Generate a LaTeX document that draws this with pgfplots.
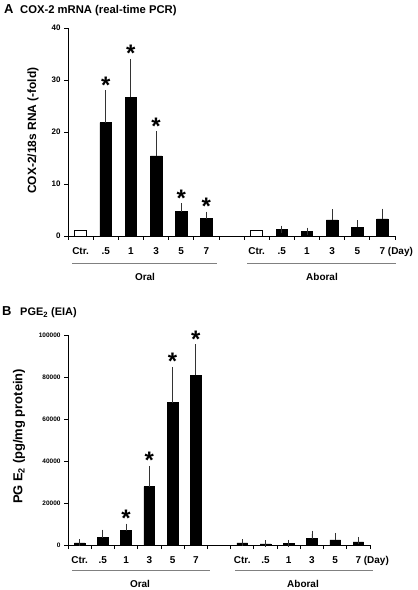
\documentclass[border=0pt]{standalone}
\usepackage{fontspec}
\setmainfont{Liberation Sans}
\usepackage{pgfplots}
\pgfplotsset{compat=1.18}

\pgfplotsset{
  panel/.style={
    scale only axis,
    axis x line*=bottom, axis y line*=left,
    axis line style={line width=0.8pt, -},
    xmin=-0.5, xmax=12.5, ymin=0,
    xtick={-0.5,0.5,...,12.5}, xticklabels={},
    major tick length=4bp, tick align=outside,
    tick style={line width=0.8pt, black},
    extra x ticks={0,1,2,3,4,5,7,8,9,10,11,12},
    extra x tick labels={Ctr.,.5,1,3,5,7,Ctr.,.5,1,3,5,{7\rlap{ (Day)}}},
    extra x tick style={major tick length=0pt,
      xticklabel style={font=\bfseries\fontsize{10}{12}\selectfont, anchor=base, yshift=-19bp}},
    scaled y ticks=false,
    clip=false,
  },
  blackbar/.style={ybar, bar width=0.46, bar shift=0pt, fill=black, draw=black, line width=0.6pt,
    error bars/.cd, y dir=plus, y explicit,
    error bar style={line width=0.8pt, black!80},
    error mark options={line width=0.8pt, black!80, mark size=3.5bp}},
  whitebar/.style={ybar, bar width=0.46, bar shift=0pt, fill=white, draw=black, line width=0.8pt},
  stars/.style={draw=none, mark=none, nodes near coords={\textbf{*}},
    every node near coord/.append style={anchor=base, yshift=0.5bp, inner sep=0pt,
      font=\bfseries\fontsize{24}{24}\selectfont}},
}

\begin{document}
\begin{tikzpicture}[x=1bp,y=1bp]
\useasboundingbox (0,0) rectangle (417,590);

% Panel A
\begin{axis}[panel, at={(68bp,354bp)}, anchor=south west, width=327bp, height=208bp,
  ymax=40, ytick={0,10,20,30,40}, yticklabels={0,10,20,30,40},
  yticklabel style={font=\bfseries\fontsize{8}{8}\selectfont},
  ylabel={\bfseries COX-2/18s RNA (-fold)},
  ylabel style={at={(axis description cs:-0.107,0.507)}, anchor=center, font=\fontsize{12}{12}\selectfont}]
\addplot[whitebar] coordinates {(0,1.0) (7,1.0)};
\addplot[blackbar] coordinates {
  (1,21.8) +- (0,5.6)
  (2,26.7) +- (0,6.7)
  (3,15.4) +- (0,4.1)
  (4,4.7) +- (0,0.9)
  (5,3.4) +- (0,0.6)
  (8,1.2) +- (0,0.1)
  (9,0.9) +- (0,0.05)
  (10,3.1) +- (0,1.4)
  (11,1.7) +- (0,0.7)
  (12,3.3) +- (0,1.3)
};
\addplot[stars] coordinates {(1,27.4) (2,33.4) (3,19.5) (4,5.6) (5,4.0)};
\end{axis}

% Panel B
\begin{axis}[panel, at={(68bp,45bp)}, anchor=south west, width=302bp, height=210bp,
  ymax=100000, ytick={0,20000,40000,60000,80000,100000},
  yticklabels={0,20000,40000,60000,80000,100000},
  yticklabel style={font=\bfseries\fontsize{6.5}{6.5}\selectfont},
  ylabel={\bfseries PG E\textsubscript{2} (pg/mg protein)},
  ylabel style={at={(axis description cs:-0.162,0.517)}, anchor=center, font=\fontsize{13}{13}\selectfont}]
\addplot[blackbar] coordinates {
  (0,1000) +- (0,0)
  (1,3500) +- (0,2200)
  (2,7000) +- (0,1500)
  (3,27800) +- (0,8200)
  (4,67800) +- (0,15400)
  (5,80800) +- (0,13200)
  (7,1000) +- (0,0)
  (8,500) +- (0,0)
  (9,800) +- (0,0)
  (10,3000) +- (0,2200)
  (11,2400) +- (0,1700)
  (12,1500) +- (0,700)
};
\addplot[stars] coordinates {(2,8500) (3,36000) (4,83200) (5,94000)};
\end{axis}

% group annotations
\draw[gray, line width=1bp] (72,326) -- (217,326);
\draw[gray, line width=1bp] (247,326) -- (396,326);
\node[font=\bfseries\fontsize{10}{12}\selectfont, anchor=base, inner sep=0pt] at (145,309.5) {Oral};
\node[font=\bfseries\fontsize{10}{12}\selectfont, anchor=base, inner sep=0pt] at (322,309.5) {Aboral};
\draw[gray, line width=1bp] (72,19) -- (210,19);
\draw[gray, line width=1bp] (235,19) -- (373,19);
\node[font=\bfseries\fontsize{10}{12}\selectfont, anchor=base, inner sep=0pt] at (140,2.5) {Oral};
\node[font=\bfseries\fontsize{10}{12}\selectfont, anchor=base, inner sep=0pt] at (303,2.5) {Aboral};

% titles
\node[anchor=base west, inner sep=0pt, font=\bfseries\fontsize{13}{13}\selectfont] at (4,576.7) {A};
\node[anchor=base west, inner sep=0pt, font=\bfseries\fontsize{11.3}{13}\selectfont] at (20,576) {COX-2 mRNA (real-time PCR)};
\node[anchor=base west, inner sep=0pt, font=\bfseries\fontsize{13}{13}\selectfont] at (2,274) {B};
\node[anchor=base west, inner sep=0pt, font=\bfseries\fontsize{11}{13}\selectfont] at (20,274) {PGE\textsubscript{2} (EIA)};
\end{tikzpicture}
\end{document}
